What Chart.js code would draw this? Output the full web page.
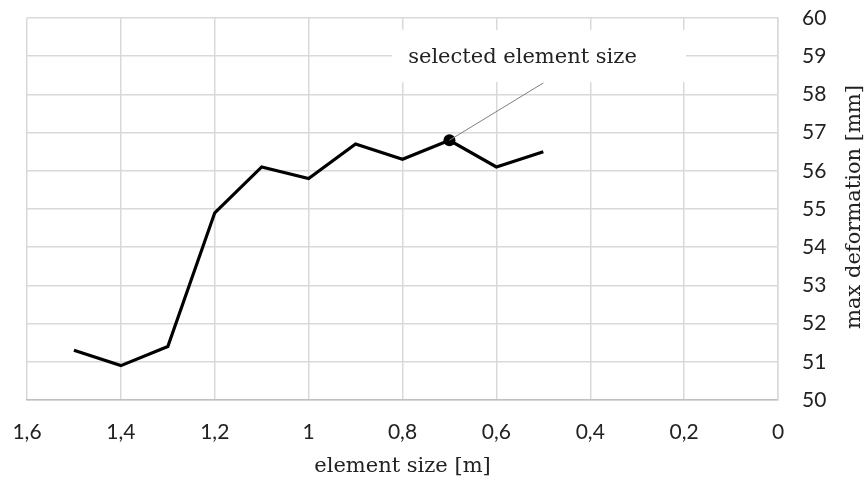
<!DOCTYPE html>
<html>
<head>
<meta charset="utf-8">
<script src="https://cdn.jsdelivr.net/npm/chart.js@4/dist/chart.umd.min.js"></script>
<style>
  html, body { margin: 0; padding: 0; background: #fff; }
  #wrap { width: 866px; height: 483px; }
</style>
</head>
<body>
<div id="wrap"><canvas id="chart"></canvas></div>
<script>
// element size sweep vs. max deformation
const sizes       = [1.5, 1.4, 1.3, 1.2, 1.1, 1.0, 0.9, 0.8, 0.7, 0.6, 0.5];
const deformation = [51.3, 50.9, 51.4, 54.9, 56.1, 55.8, 56.7, 56.3, 56.8, 56.1, 56.5];

const selectedSize  = 0.7;
const leaderX = [0.7, 0.5];
const leaderY = [56.8, 58.3];
const labelText = "selected element size";

const xTitle = "element size [m]";
const yTitle = "max deformation [mm]";

const GRID  = "#d9d9d9";
const SERIF = "'DejaVu Serif', serif";
const SANS  = "Lato, 'Liberation Sans', sans-serif";

const pts = (xs, ys) => xs.map((x, i) => ({ x, y: ys[i] }));

// white box + text for the callout, plus the right-hand axis title
const calloutPlugin = {
  id: "callout",
  beforeDatasetsDraw(chart) {
    const { ctx, scales: { x, y } } = chart;
    const x0 = x.getPixelForValue(0.822), x1 = x.getPixelForValue(0.196);
    const y0 = y.getPixelForValue(59.69), y1 = y.getPixelForValue(58.32);
    ctx.save();
    ctx.fillStyle = "#fff";
    ctx.fillRect(x0, y0, x1 - x0, y1 - y0);
    ctx.fillStyle = "#222";
    ctx.font = "21px " + SERIF;
    ctx.textBaseline = "middle";
    ctx.fillText(labelText, x0 + 16, y.getPixelForValue(59) + 1);
    ctx.restore();
  },
  afterDraw(chart) {
    const { ctx } = chart;
    ctx.save();
    ctx.translate(855, 207);
    ctx.rotate(-Math.PI / 2);
    ctx.fillStyle = "#222";
    ctx.font = "21px " + SERIF;
    ctx.textAlign = "center";
    ctx.textBaseline = "middle";
    ctx.fillText(yTitle, 0, 0);
    ctx.restore();
  }
};

new Chart(document.getElementById("chart"), {
  type: "line",
  data: {
    datasets: [
      {
        data: pts(leaderX, leaderY),
        borderColor: "#7f7f7f", borderWidth: 1,
        pointRadius: 0, tension: 0
      },
      {
        data: pts(sizes, deformation),
        borderColor: "#000", borderWidth: 3.2,
        borderJoinStyle: "miter",
        pointRadius: sizes.map(s => s === selectedSize ? 6 : 0),
        pointBackgroundColor: "#000", pointBorderWidth: 0,
        tension: 0
      }
    ]
  },
  plugins: [calloutPlugin],
  options: {
    responsive: true,
    maintainAspectRatio: false,
    animation: false,
    layout: { padding: { left: 27, top: 18, right: 0, bottom: 0 } },
    plugins: { legend: { display: false }, tooltip: { enabled: false } },
    scales: {
      x: {
        type: "linear", reverse: true, min: 0, max: 1.6,
        afterFit: s => { s.height = 83; s.paddingLeft = 0; s.paddingRight = 0; },
        grid: { color: GRID, lineWidth: 1.5, drawTicks: false },
        border: { color: "#bfbfbf", width: 1.5 },
        ticks: {
          stepSize: 0.2, padding: 20, color: "#222",
          font: { family: SANS, size: 21 },
          callback: v => String(Math.round(v * 10) / 10).replace(".", ",")
        },
        title: {
          display: true, text: xTitle, color: "#222",
          font: { family: SERIF, size: 21 },
          padding: { top: 0, bottom: 4 }
        }
      },
      y: {
        position: "right", min: 50, max: 60,
        afterFit: s => { s.width = 88; s.paddingTop = 0; s.paddingBottom = 0; },
        grid: { color: GRID, lineWidth: 1.5, drawTicks: false },
        border: { color: GRID, width: 1.5 },
        ticks: {
          stepSize: 1, padding: 24, color: "#222",
          font: { family: SANS, size: 21 }
        }
      }
    }
  }
});
</script>
</body>
</html>
